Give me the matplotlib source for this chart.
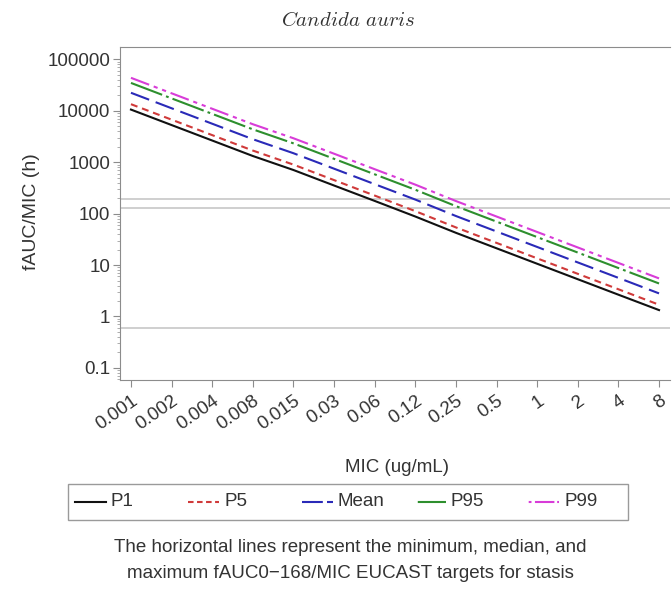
import matplotlib
matplotlib.use("Agg")
import matplotlib.pyplot as plt
from matplotlib.lines import Line2D
from matplotlib.patches import Rectangle
import numpy as np

plt.rcParams['font.family'] = ['Liberation Sans', 'DejaVu Sans']
plt.rcParams['mathtext.fontset'] = 'cm'
plt.rcParams['lines.scale_dashes'] = False

mic_labels = ["0.001", "0.002", "0.004", "0.008", "0.015", "0.03", "0.06",
              "0.12", "0.25", "0.5", "1", "2", "4", "8"]

p1 = [10600, 5300, 2650, 1325, 707, 353, 177, 88, 42.4, 21.2, 10.6, 5.3, 2.65, 1.33]
p5 = [13500, 6750, 3375, 1690, 900, 450, 225, 112, 54, 27, 13.5, 6.75, 3.38, 1.69]
mean = [22500, 11250, 5625, 2810, 1500, 750, 375, 188, 90, 45, 22.5, 11.25, 5.63, 2.81]
p95 = [35000, 17500, 8750, 4375, 2333, 1167, 583, 292, 140, 70, 35, 17.5, 8.75, 4.38]
p99 = [44000, 22000, 11000, 5500, 2933, 1467, 733, 367, 176, 88, 44, 22, 11, 5.5]

targets = [0.6, 128, 190]

series_names = ["P1", "P5", "Mean", "P95", "P99"]
series_vals = [p1, p5, mean, p95, p99]
colors = ["#111111", "#d03a3a", "#2a2ab8", "#2e8f2e", "#d83cd8"]
styles = ["-", (0, (5, 3.5)), (0, (14, 5)), (0, (24, 3, 2, 3)),
          (0, (14, 3.5, 3, 3.5, 3, 3.5))]
leg_styles = ["-", (0, (4, 2.5)), (0, (15, 3)), (3, (2, 3, 24, 3)),
              (4, (2, 2.5, 2, 2.5, 14, 2))]

W, H = 672, 592
TXT = "#333333"
fig = plt.figure(figsize=(W / 100, H / 100), dpi=100)
ax = fig.add_axes([120 / W, 1 - 380 / H, 550 / W, 333 / H])

x = np.arange(len(mic_labels))
for t in targets:
    ax.axhline(t, color="#cfcfcf", lw=1.4, zorder=1)

for name, vals, c, ls in zip(series_names, series_vals, colors, styles):
    ax.plot(x, vals, color=c, ls=ls, lw=1.5, label=name, zorder=3)

ax.set_yscale("log")
ax.set_ylim(0.058, 175000)
ax.set_xlim(-0.27, len(mic_labels) - 1 + 0.27)
ax.set_yticks([0.1, 1, 10, 100, 1000, 10000, 100000])
ax.set_yticklabels(["0.1", "1", "10", "100", "1000", "10000", "100000"])
ax.set_xticks(x)
ax.set_xticklabels(mic_labels, rotation=35, ha="right", rotation_mode="anchor")

for s in ["left", "bottom", "top"]:
    ax.spines[s].set_color("#8c8c8c")
ax.spines["right"].set_visible(False)
ax.tick_params(axis="both", which="major", colors="#8c8c8c", labelcolor=TXT,
               labelsize=13.5, length=5, direction="out")
ax.tick_params(axis="y", which="minor", colors="#a0a0a0", length=2.5)
ax.tick_params(axis="x", which="major", pad=4)
ax.tick_params(axis="y", which="major", pad=2)

fig.text(32 / W, 1 - 212 / H, "fAUC/MIC (h)", rotation=90, ha="center", va="center",
         fontsize=14, color=TXT)
fig.text(397 / W, 1 - 468 / H, "MIC (ug/mL)", ha="center", va="center",
         fontsize=13.5, color=TXT)
fig.text(348 / W, 1 - 20 / H, r"$\mathit{Candida\ auris}$", ha="center", va="center",
         fontsize=15, color=TXT)

# legend box drawn in figure pixel coordinates
fig.add_artist(Rectangle((68 / W, 1 - 520 / H), 560 / W, 36 / H,
                         transform=fig.transFigure, fill=False,
                         edgecolor="#9a9a9a", lw=1.0))
leg_y = 1 - 502 / H
for i, (name, c, ls) in enumerate(zip(series_names, colors, leg_styles)):
    x0 = 75 + 113.3 * i
    fig.add_artist(Line2D([x0 / W, (x0 + 31) / W], [leg_y, leg_y],
                          transform=fig.transFigure, color=c, ls=ls, lw=1.5))
    fig.text((x0 + 36) / W, leg_y, name, ha="left", va="center",
             fontsize=13.5, color=TXT)

fig.text(350 / W, 1 - 548 / H,
         "The horizontal lines represent the minimum, median, and",
         ha="center", va="center", fontsize=13.5, color=TXT)
fig.text(350 / W, 1 - 573 / H,
         "maximum fAUC0\u2212168/MIC EUCAST targets for stasis",
         ha="center", va="center", fontsize=13.5, color=TXT)

fig.savefig("out.png", dpi=100)
